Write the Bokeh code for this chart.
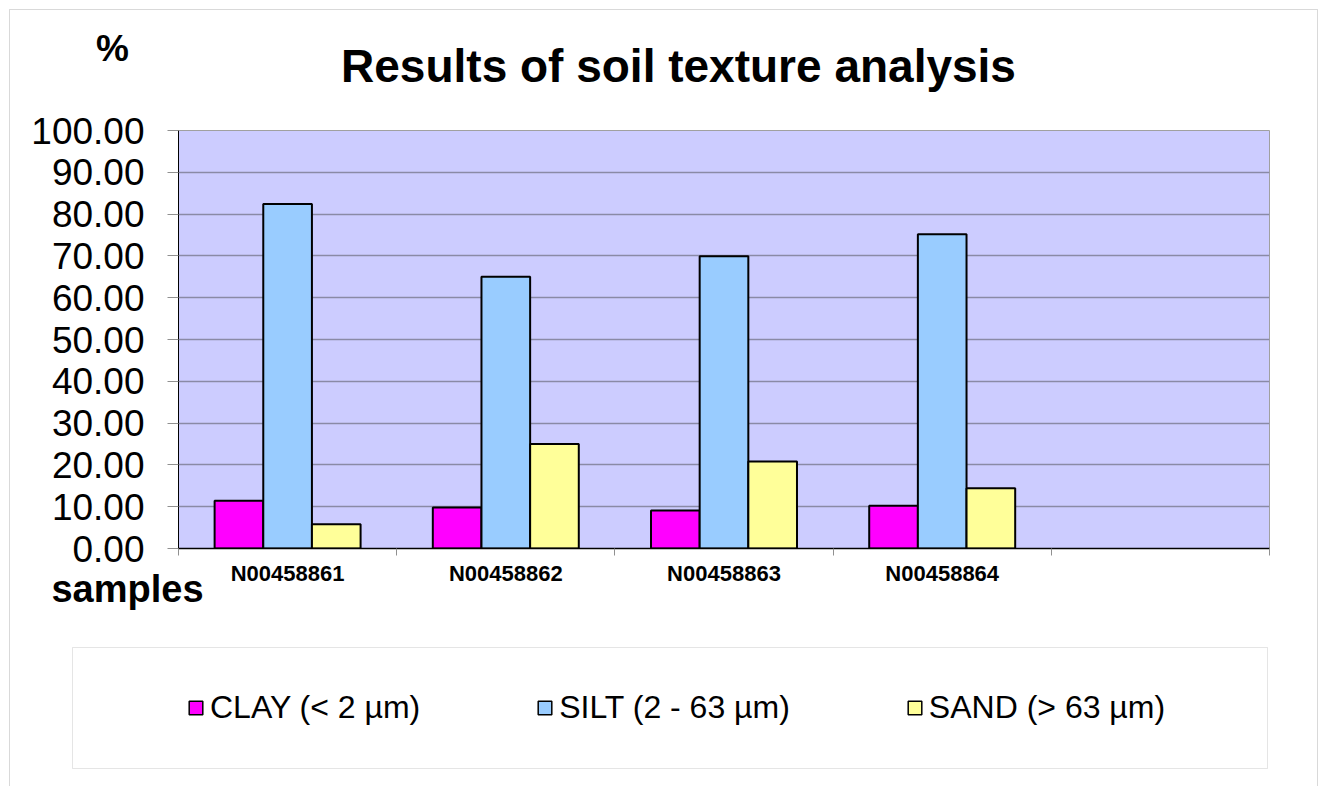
import numpy as np
from bokeh.plotting import figure
from bokeh.models import (Range1d, FixedTicker, PrintfTickFormatter, Legend, LegendItem,
                          Label, BoxAnnotation, GridBox)
from bokeh.embed import file_html
from bokeh.resources import INLINE

# ---- data ----
samples = ["N00458861", "N00458862", "N00458863", "N00458864"]
n_slots = 5  # one empty category slot at the right
clay = [11.4, 9.8, 9.1, 10.2]
silt = [82.4, 65.0, 69.9, 75.2]
sand = [5.8, 25.0, 20.8, 14.4]
series_names = ["CLAY (< 2 µm)", "SILT (2 - 63 µm)", "SAND (> 63 µm)"]
series_colors = ["#FF00FF", "#99CCFF", "#FFFF99"]
y_ticks = [0, 10, 20, 30, 40, 50, 60, 70, 80, 90, 100]

FONT = "Liberation Sans"
W, H = 1320, 786

# ---- main chart ----
p = figure(width=W, height=H, output_backend="svg", toolbar_location=None,
           x_range=Range1d(0, n_slots), y_range=Range1d(0, 100),
           min_border_left=178, min_border_right=W - 1269, min_border_top=130,
           min_border_bottom=H - 548)
p.frame_align = False
p.border_fill_color = "white"
p.background_fill_color = "#CCCCFF"
p.outline_line_color = "#a0a0a0"
p.outline_line_width = 1

centers = np.arange(len(samples)) + 0.5
bar_w = 0.223
offsets = [-bar_w, 0.0, bar_w]
series_values = [clay, silt, sand]
for vals, off, col in zip(series_values, offsets, series_colors):
    p.vbar(x=centers + off, width=bar_w, top=vals, bottom=0,
           fill_color=col, line_color="black", line_width=2)

p.xgrid.visible = False
p.ygrid.ticker = FixedTicker(ticks=y_ticks)
p.ygrid.grid_line_color = "#8a8aa6"
p.ygrid.grid_line_width = 1.5

ya = p.yaxis[0]
ya.ticker = FixedTicker(ticks=y_ticks, minor_ticks=[])
ya.formatter = PrintfTickFormatter(format="%.2f")
ya.axis_line_color = "black"
ya.axis_line_width = 1
ya.major_tick_out = 11
ya.major_tick_in = 0
ya.major_tick_line_color = "#909090"
ya.minor_tick_line_color = None
ya.major_label_standoff = 23
ya.major_label_text_font = FONT
ya.major_label_text_font_size = "37px"
ya.major_label_text_color = "black"

xa = p.xaxis[0]
xa.ticker = FixedTicker(ticks=list(centers), minor_ticks=list(range(n_slots + 1)))
xa.major_label_overrides = {float(c): s for c, s in zip(centers, samples)}
xa.axis_line_color = "black"
xa.axis_line_width = 1.5
xa.major_tick_out = 0
xa.major_tick_in = 0
xa.major_tick_line_color = None
xa.minor_tick_out = 7
xa.minor_tick_in = 0
xa.minor_tick_line_color = "#909090"
xa.major_label_standoff = 5
xa.major_label_text_font = FONT
xa.major_label_text_font_style = "bold"
xa.major_label_text_font_size = "22px"
xa.major_label_text_color = "black"

# ---- overlay layer (titles, legend and frames), pixel coordinates from top-left ----
q = figure(width=W, height=H, output_backend="svg", toolbar_location=None,
           x_range=Range1d(0, W), y_range=Range1d(H, 0),
           x_axis_type=None, y_axis_type=None, min_border=0)
q.frame_align = False
q.background_fill_color = None
q.border_fill_color = None
q.outline_line_color = None
q.xgrid.visible = False
q.ygrid.visible = False

q.add_layout(Label(x=678, y=65, text="Results of soil texture analysis", text_align="center",
                   text_baseline="middle", text_font=FONT, text_font_style="bold",
                   text_font_size="46px", text_color="black"))
q.add_layout(Label(x=112, y=48, text="%", text_align="center", text_baseline="middle",
                   text_font=FONT, text_font_style="bold", text_font_size="37px",
                   text_color="black"))
q.add_layout(Label(x=127, y=588, text="samples", text_align="center",
                   text_baseline="middle", text_font=FONT, text_font_style="bold",
                   text_font_size="38px", text_color="black"))

q.add_layout(BoxAnnotation(left=9, right=1317, top=9, bottom=H + 30,
                           fill_alpha=0, line_color="#808080", line_width=1))
q.add_layout(BoxAnnotation(left=72, right=1267, top=647, bottom=768,
                           fill_alpha=0, line_color="#a8a8a8", line_width=1))

# hidden copies of the series (same data) that supply the legend swatches on this layer
proxies = [q.vbar(x=centers + off, width=bar_w, top=vals, bottom=0, fill_color=col,
                  line_color="black", line_width=1.5, visible=False)
           for vals, off, col in zip(series_values, offsets, series_colors)]
legend = Legend(items=[LegendItem(label=n, renderers=[r]) for n, r in zip(series_names, proxies)],
                orientation="horizontal", location=(187, H - 726), spacing=116,
                glyph_width=17, glyph_height=17, label_standoff=6,
                label_text_font=FONT, label_text_font_size="32px",
                label_text_color="black", border_line_color=None,
                background_fill_alpha=0, padding=0, margin=0)
q.add_layout(legend, "center")

layout = GridBox(children=[(p, 0, 0), (q, 0, 0)])

open("out.html", "w").write(file_html(layout, INLINE))
